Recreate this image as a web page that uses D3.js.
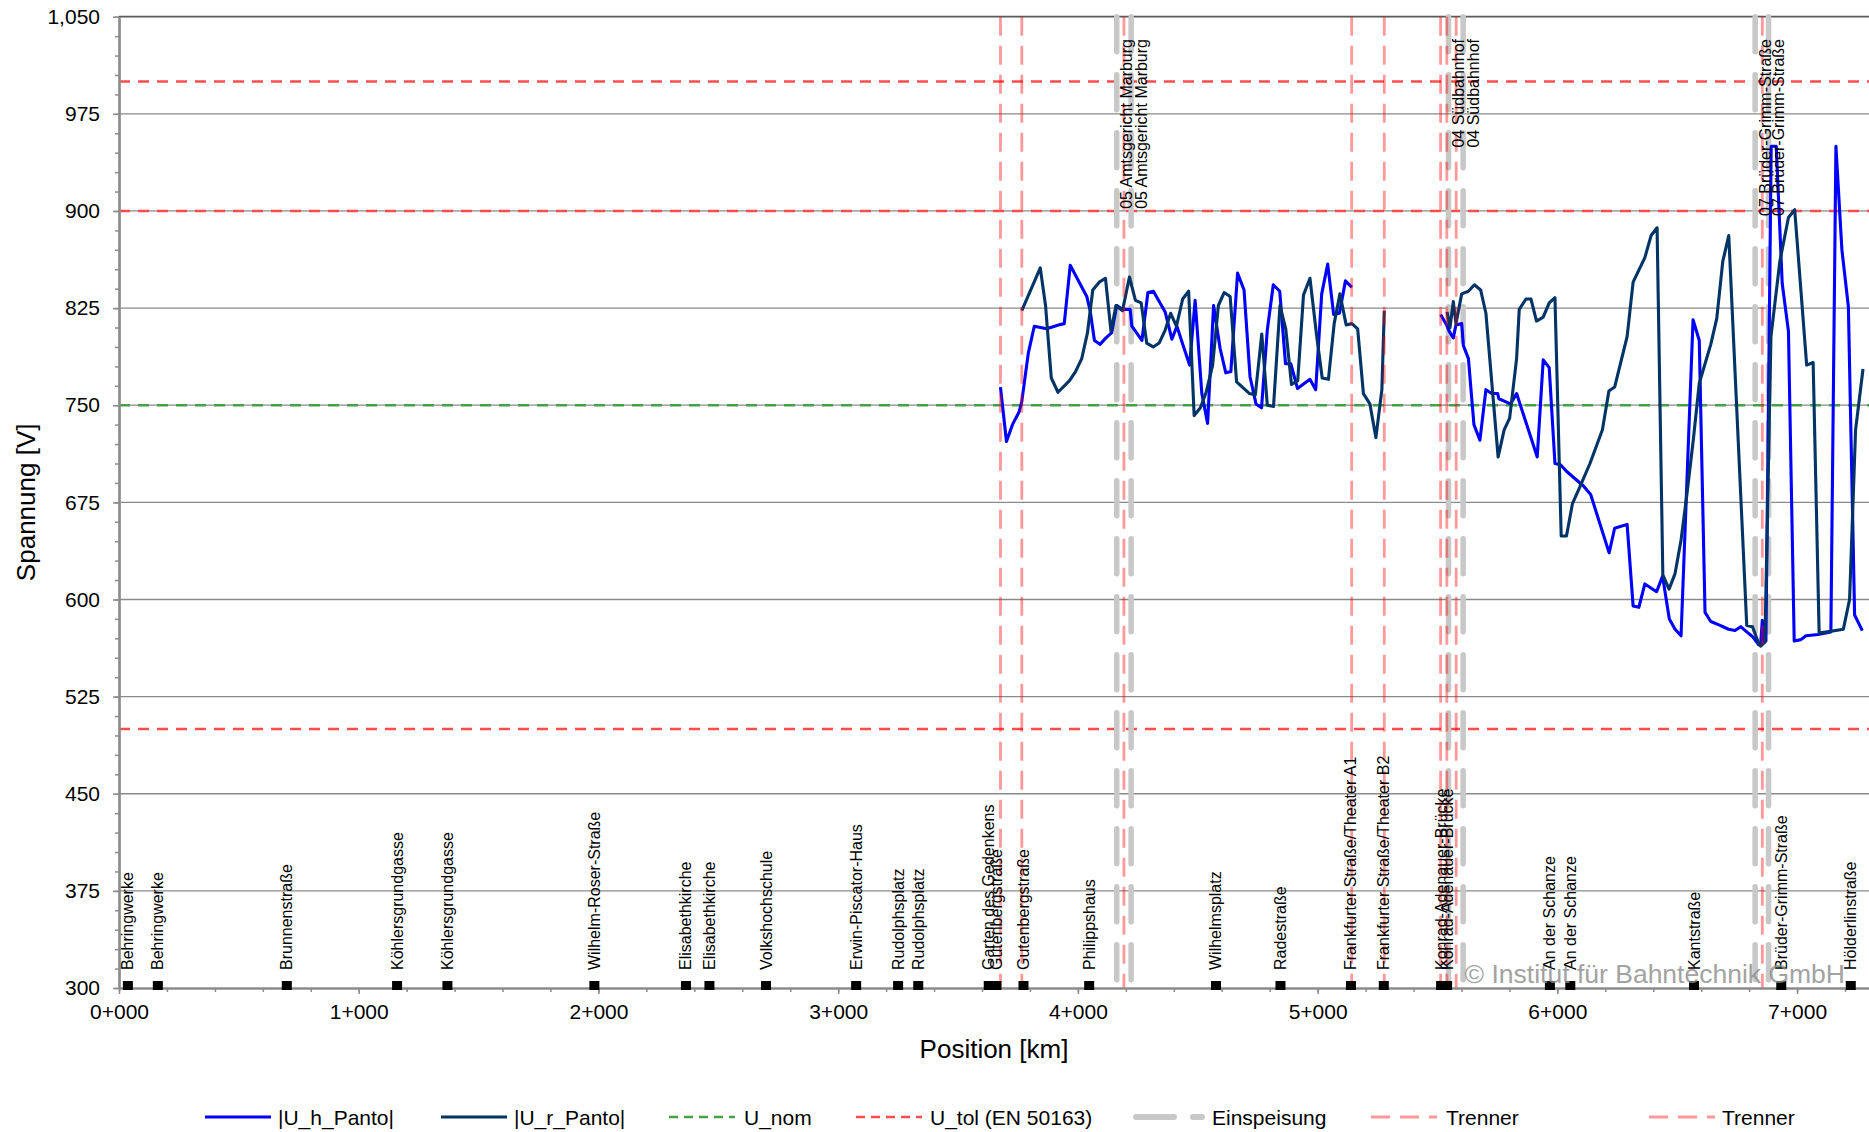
<!DOCTYPE html>
<html><head><meta charset="utf-8">
<script src="https://cdn.jsdelivr.net/npm/d3@7"></script>
<style>
html,body{margin:0;padding:0;background:#fff;}
svg{display:block;font-family:"Liberation Sans",Arial,sans-serif;}
</style></head><body>
<svg id="chart" width="1869" height="1132"></svg>
<script>
// ---------- DATA ----------
const yTickValues = [300,375,450,525,600,675,750,825,900,975,1050];
const xTickValues = [0,1,2,3,4,5,6,7];

// |U_h_Panto| : position [km] and voltage [V]; null = gap
const uhKm = [3.677,3.702,3.727,3.755,3.766,3.793,3.818,3.870,3.919,3.943,3.968,4.037,4.051,4.069,4.092,4.117,4.141,4.162,4.186,4.218,4.225,4.267,4.292,4.315,4.364,4.392,4.413,4.441,4.466,4.489,4.517,4.541,4.566,4.593,4.617,4.638,4.666,4.693,4.718,4.743,4.766,4.790,4.815,4.842,4.866,4.888,4.916,4.968,4.992,5.017,5.042,5.067,5.091,5.116,5.143,
  5.300,
  5.513,5.538,5.549,5.566,5.577,5.601,5.608,5.629,5.652,5.677,5.702,5.726,5.751,5.756,5.781,5.805,5.830,5.916,5.941,5.966,5.990,6.013,6.038,6.069,6.107,6.139,6.216,6.239,6.291,6.316,6.340,6.365,6.414,6.439,6.467,6.491,6.516,6.566,6.592,6.616,6.640,6.679,6.714,6.741,6.765,6.790,6.816,6.840,6.848,6.855,6.862,6.870,6.892,6.913,6.938,6.964,6.988,7.016,7.037,7.088,7.141,7.162,7.187,7.214,7.240,7.272];
const uhV = [764,722,735,745,753,790,811,809,812,813,858,834,823,800,797,802,806,827,824,824,811,800,837,838,822,801,811,795,781,831,759,736,827,794,775,776,852,839,772,751,748,808,843,838,782,782,763,770,762,836,859,820,821,846,841,
  null,
  820,812,807,802,812,813,796,786,735,723,762,759,759,755,753,751,759,710,785,779,705,704,699,694,688,681,636,655,658,595,594,612,606,618,585,577,572,816,800,590,583,580,577,576,579,575,571,565,565,584,567,568,950,950,844,807,568,569,572,573,575,950,870,826,588,576];

// |U_r_Panto|
const urKm = [3.766,3.843,3.865,3.889,3.917,3.965,3.990,4.016,4.040,4.062,4.089,4.115,4.138,4.159,4.186,4.215,4.240,4.264,4.287,4.314,4.339,4.364,4.387,4.411,4.437,4.462,4.485,4.511,4.535,4.562,4.586,4.610,4.635,4.662,4.716,4.740,4.767,4.790,4.816,4.843,4.867,4.891,4.917,4.941,4.968,4.995,5.019,5.045,5.069,5.093,5.119,5.143,5.167,5.191,5.218,5.243,5.268,5.278,
  5.400,
  5.540,5.552,5.566,5.577,5.601,5.629,5.654,5.680,5.702,5.753,5.778,5.801,5.830,5.841,5.869,5.890,5.913,5.941,5.966,5.990,6.016,6.038,6.063,6.094,6.136,6.188,6.215,6.239,6.291,6.316,6.365,6.391,6.416,6.440,6.466,6.491,6.516,6.541,6.567,6.592,6.640,6.665,6.690,6.715,6.790,6.814,6.838,6.848,6.866,6.891,6.928,6.964,6.990,7.040,7.067,7.092,7.193,7.219,7.244,7.275];
const urV = [823,856,827,771,760,769,776,786,806,839,845,848,807,827,823,849,831,829,798,795,798,808,821,811,832,838,742,748,760,781,827,837,834,768,759,758,805,750,749,827,809,766,769,835,848,805,771,770,813,836,812,813,809,759,751,725,762,823,
  null,
  822,810,830,813,836,838,843,839,821,710,731,740,786,824,832,832,815,818,829,833,649,649,674,687,705,731,761,764,803,845,864,881,887,619,608,620,646,682,723,767,797,817,861,881,580,579,567,564,567,803,861,895,901,781,783,574,577,600,731,778];

const uNom = [750];
const uTol = [1000, 900, 500];

const einspeisungKm = [4.162, 4.222, 5.546, 5.607, 6.825, 6.881];
const einspeisungNames = ["05 Amtsgericht Marburg","05 Amtsgericht Marburg","04 Südbahnhof","04 Südbahnhof","07 Brüder-Grimm-Straße","07 Brüder-Grimm-Straße"];

const trenner1Km = [3.677, 4.192, 5.142, 5.513, 6.855];
const trenner2Km = [3.766, 5.278, 5.539, 5.578];

const stationKm = [0.037,0.162,0.700,1.160,1.370,1.983,2.365,2.463,2.699,3.075,3.250,3.334,3.628,3.660,3.773,4.047,4.576,4.845,5.139,5.276,5.515,5.540,5.969,6.054,6.570,6.934,7.224];
const stationNames = ["Behringwerke","Behringwerke","Brunnenstraße","Köhlersgrundgasse","Köhlersgrundgasse","Wilhelm-Roser-Straße","Elisabethkirche","Elisabethkirche","Volkshochschule","Erwin-Piscator-Haus","Rudolphsplatz","Rudolphsplatz","Garten des Gedenkens","Gutenbergstraße","Gutenbergstraße","Philippshaus","Wilhelmsplatz","Radestraße","Frankfurter Straße/Theater A1","Frankfurter Straße/Theater B2","Konrad-Adenauer-Brücke","Konrad-Adenauer-Brücke","An der Schanze","An der Schanze","Kantstraße","Brüder-Grimm-Straße","Hölderlinstraße"];

const legendNames = ["|U_h_Panto|","|U_r_Panto|","U_nom","U_tol (EN 50163)","Einspeisung","Trenner","Trenner"];

// ---------- CHART ----------
(function () {
const pl = 119, pr = 1869, pt = 16.7, pb = 988;
const x = d3.scaleLinear().domain([0, 7.3]).range([pl, pr]);
const y = d3.scaleLinear().domain([300, 1050]).range([pb, pt]);
const svg = d3.select("#chart");

const C = {
  uh: "#0000ff", ur: "#003366", nom: "#46a046", tol: "#ff4d4d",
  eins: "#c8c8c8", tren: "rgba(255,0,0,0.4)", grid: "#8a8a8a", axis: "#8c8c8c"
};

// gridlines
svg.append("g").selectAll("line")
  .data(yTickValues.filter(v => v > 300 && v < 1050)).join("line")
  .attr("x1", pl).attr("x2", pr)
  .attr("y1", d => y(d)).attr("y2", d => y(d))
  .attr("stroke", C.grid).attr("stroke-width", 1.3);
// top border
svg.append("line").attr("x1", pl).attr("x2", pr).attr("y1", y(1050)).attr("y2", y(1050))
  .attr("stroke", "#5a5a5a").attr("stroke-width", 1.8);

// U_nom & U_tol
svg.append("g").selectAll("line").data(uTol).join("line")
  .attr("x1", pl).attr("x2", pr).attr("y1", d => y(d)).attr("y2", d => y(d))
  .attr("stroke", C.tol).attr("stroke-width", 2.5).attr("stroke-dasharray", "11,8");
svg.append("g").selectAll("line").data(uNom).join("line")
  .attr("x1", pl).attr("x2", pr).attr("y1", d => y(d)).attr("y2", d => y(d))
  .attr("stroke", C.nom).attr("stroke-width", 2.5).attr("stroke-dasharray", "11,8");

// Einspeisung
svg.append("g").selectAll("line").data(einspeisungKm).join("line")
  .attr("x1", d => x(d)).attr("x2", d => x(d)).attr("y1", y(1050)).attr("y2", pb)
  .attr("stroke", C.eins).attr("stroke-width", 5.5).attr("stroke-linecap", "round")
  .attr("stroke-dasharray", "35,23");

// data lines
function series(km, v) { return km.map((k, i) => ({k, v: v[i]})); }
const line = d3.line().defined(d => d.v != null).x(d => x(d.k)).y(d => y(d.v));
svg.append("path").datum(series(uhKm, uhV)).attr("d", line)
  .attr("fill", "none").attr("stroke", C.uh).attr("stroke-width", 3.1).attr("stroke-linejoin", "round");
svg.append("path").datum(series(urKm, urV)).attr("d", line)
  .attr("fill", "none").attr("stroke", C.ur).attr("stroke-width", 3.1).attr("stroke-linejoin", "round");

// Trenner
svg.append("g").selectAll("line").data(trenner1Km.concat(trenner2Km)).join("line")
  .attr("x1", d => x(d)).attr("x2", d => x(d)).attr("y1", y(1050)).attr("y2", pb)
  .attr("stroke", C.tren).attr("stroke-width", 2.8).attr("stroke-dasharray", "19,10");

// axes
const fmtKm = d => { const k = Math.floor(d + 1e-9); const m = Math.round((d - k) * 1000); return k + "+" + String(m).padStart(3, "0"); };
const yAxis = svg.append("g").attr("transform", `translate(${pl},0)`)
  .call(d3.axisLeft(y).tickValues(yTickValues).tickFormat(d3.format(",")).tickSize(6).tickSizeOuter(0).tickPadding(13));
const yMinor = svg.append("g").attr("transform", `translate(${pl},0)`)
  .call(d3.axisLeft(y).tickValues(d3.range(300, 1051, 15)).tickFormat("").tickSize(4).tickSizeOuter(0));
const xAxis = svg.append("g").attr("transform", `translate(0,${pb})`)
  .call(d3.axisBottom(x).tickValues(xTickValues).tickFormat(fmtKm).tickSize(6).tickSizeOuter(0).tickPadding(10));
const xMinor = svg.append("g").attr("transform", `translate(0,${pb})`)
  .call(d3.axisBottom(x).tickValues(d3.range(0, 7.3, 0.2)).tickFormat("").tickSize(4).tickSizeOuter(0));
[yAxis, yMinor, xAxis, xMinor].forEach(g => {
  g.selectAll(".domain").attr("stroke", C.axis).attr("stroke-width", 2.2);
  g.selectAll(".tick line").attr("stroke", C.axis).attr("stroke-width", 1.5);
  g.selectAll("text").attr("font-family", "Liberation Sans, Arial, sans-serif").attr("font-size", 21).attr("fill", "#000");
});

// station markers and labels
svg.append("g").selectAll("rect").data(stationKm).join("rect")
  .attr("x", d => x(d) - 5).attr("y", pb - 7).attr("width", 10).attr("height", 9).attr("fill", "#000");
svg.append("g").selectAll("text").data(stationKm).join("text")
  .attr("transform", d => `translate(${x(d)},970) rotate(-90)`)
  .attr("text-anchor", "start").attr("dominant-baseline", "central")
  .attr("font-size", 16).attr("fill", "#000")
  .text((d, i) => stationNames[i]);

// Einspeisung labels
svg.append("g").selectAll("text").data(einspeisungKm).join("text")
  .attr("transform", d => `translate(${x(d) + 10},39) rotate(-90)`)
  .attr("text-anchor", "end").attr("dominant-baseline", "central")
  .attr("font-size", 16).attr("fill", "#000")
  .text((d, i) => einspeisungNames[i]);

// watermark
svg.append("text").attr("x", 1845).attr("y", 983).attr("text-anchor", "end")
  .attr("font-size", 26.5).attr("fill", "#8c8c8c").attr("opacity", 0.8)
  .text("© Institut für Bahntechnik GmbH");

// axis titles
svg.append("text").attr("x", (pl + pr) / 2).attr("y", 1058).attr("text-anchor", "middle")
  .attr("font-size", 26).attr("fill", "#000").text("Position [km]");
svg.append("text").attr("transform", `translate(35,${(pt + pb) / 2}) rotate(-90)`)
  .attr("text-anchor", "middle").attr("font-size", 26).attr("fill", "#000").text("Spannung [V]");

// legend
const legY = 1117;
const legItems = [
  {x0: 205, tx: 278, stroke: C.uh, w: 3, dash: null, cap: "butt"},
  {x0: 441, tx: 514, stroke: C.ur, w: 3, dash: null, cap: "butt"},
  {x0: 669, tx: 744, stroke: C.nom, w: 2.5, dash: "9,6", cap: "butt"},
  {x0: 856, tx: 930, stroke: C.tol, w: 2.5, dash: "9,6", cap: "butt"},
  {x0: 1136, tx: 1212, stroke: C.eins, w: 6, dash: "38,19", cap: "round"},
  {x0: 1371, tx: 1446, stroke: C.tren, w: 2.8, dash: "19,10", cap: "butt"},
  {x0: 1649, tx: 1722, stroke: C.tren, w: 2.8, dash: "19,10", cap: "butt"}
];
const lg = svg.append("g");
legItems.forEach((it, i) => {
  const l = lg.append("line").attr("x1", it.x0).attr("x2", it.x0 + 66).attr("y1", legY).attr("y2", legY)
    .attr("stroke", it.stroke).attr("stroke-width", it.w).attr("stroke-linecap", it.cap);
  if (it.dash) l.attr("stroke-dasharray", it.dash);
  lg.append("text").attr("x", it.tx).attr("y", legY).attr("dominant-baseline", "central")
    .attr("font-size", 21).attr("fill", "#000").text(legendNames[i]);
});
})();
</script>
</body></html>
